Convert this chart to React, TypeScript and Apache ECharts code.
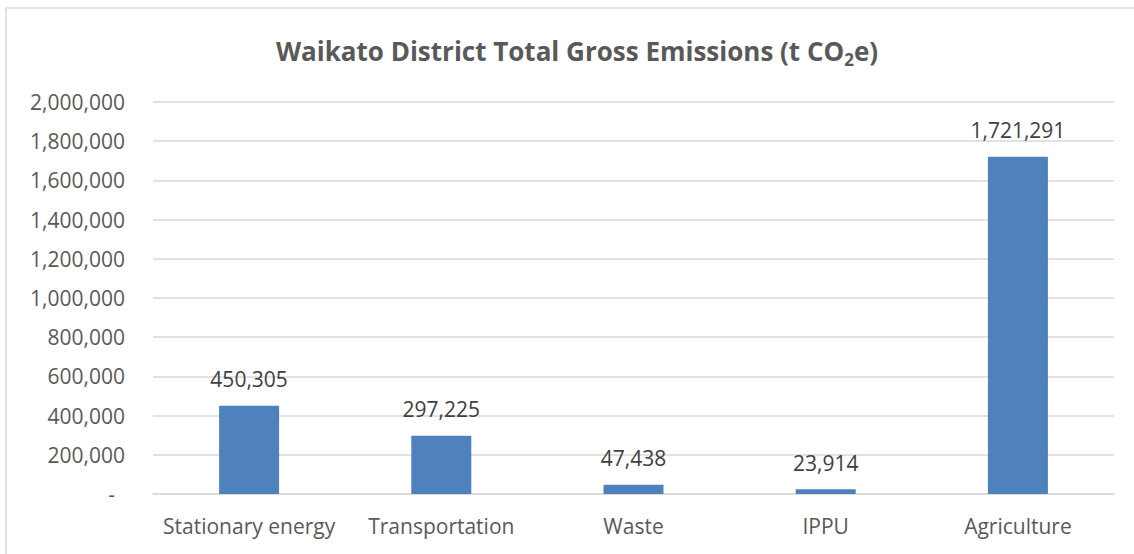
import React, { useEffect, useRef } from "react";
import * as echarts from "echarts";

const categories = ["Stationary energy", "Transportation", "Waste", "IPPU", "Agriculture"];
const emissions = [450305, 297225, 47438, 23914, 1721291];
const yTicks = { min: 0, max: 2000000, interval: 200000 };

const fmt = (v: number) => v.toLocaleString("en-US");

export default function App() {
  const ref = useRef<HTMLDivElement>(null);
  useEffect(() => {
    if (!ref.current) return;
    const chart = echarts.init(ref.current, undefined, { renderer: "svg" });
    const font = "Open Sans";
    chart.setOption({
      animation: false,
      backgroundColor: "#ffffff",
      textStyle: { fontFamily: font },
      title: {
        text: "{a|Waikato District Total Gross Emissions (t CO}{b|2}{a|e)}",
        left: 572,
        textAlign: "center",
        top: 31,
        textStyle: {
          rich: {
            a: { fontFamily: font, fontSize: 26, fontWeight: "bold", color: "#595959", lineHeight: 30 },
            b: { fontFamily: font, fontSize: 17, fontWeight: "bold", color: "#595959", lineHeight: 30, padding: [16, 0, 0, 0] },
          },
        },
      },
      graphic: [
        {
          type: "rect",
          shape: { x: 6, y: 8, width: 1140, height: 560 },
          style: { fill: "none", stroke: "#d9d9d9", lineWidth: 1.5 },
          silent: true,
        },
      ],
      grid: { left: 153, right: 20, top: 102, bottom: 60, containLabel: false },
      xAxis: {
        type: "category",
        data: categories,
        axisLine: { show: true, lineStyle: { color: "#d9d9d9", width: 1.5 } },
        axisTick: { show: false },
        axisLabel: { color: "#595959", fontSize: 21, fontFamily: font, margin: 21, interval: 0 },
      },
      yAxis: {
        type: "value",
        min: yTicks.min,
        max: yTicks.max,
        interval: yTicks.interval,
        axisLine: { show: false },
        axisTick: { show: false },
        splitLine: { lineStyle: { color: "#d9d9d9", width: 1.5 } },
        axisLabel: {
          color: "#595959",
          fontSize: 21,
          fontFamily: font,
          margin: 28,
          formatter: (v: number) => (v === 0 ? "{d|-}" : fmt(v)),
          rich: { d: { color: "#595959", fontSize: 21, fontFamily: font, padding: [0, 10, 0, 0] } },
        },
      },
      series: [
        {
          type: "bar",
          data: emissions,
          barWidth: 60,
          itemStyle: { color: "#4f81bd" },
          label: {
            show: true,
            position: "top",
            distance: 16,
            color: "#404040",
            fontSize: 21,
            fontFamily: font,
            formatter: (p: any) => fmt(p.value),
          },
        },
      ],
    });
    return () => chart.dispose();
  }, []);
  return <div ref={ref} style={{ position: "fixed", left: 0, top: 0, width: 1134, height: 554 }} />;
}
